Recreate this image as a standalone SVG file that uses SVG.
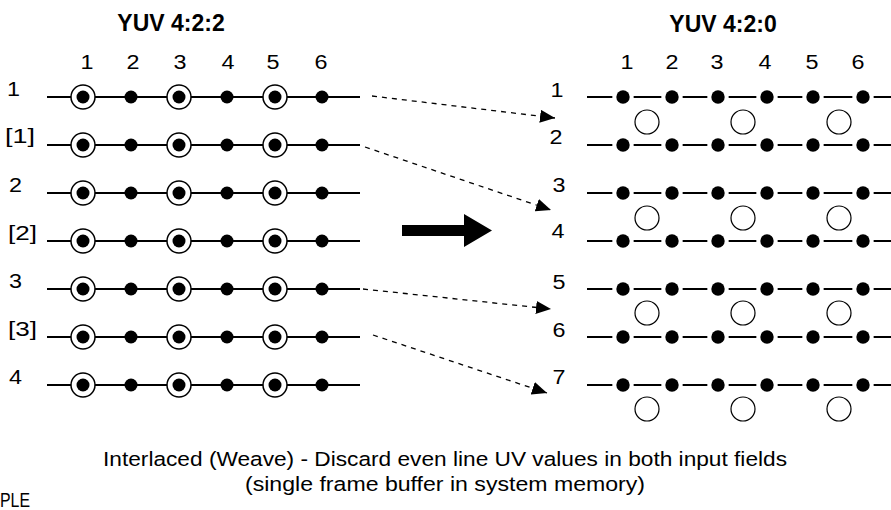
<svg xmlns="http://www.w3.org/2000/svg" width="891" height="510" viewBox="0 0 891 510">
<defs>
<style>
text{font-family:"Liberation Sans",Arial,sans-serif;fill:#000}
.t{font-size:23px;font-weight:bold;text-anchor:middle}
.n{font-size:19.5px;text-anchor:middle}
.l{font-size:19.5px}
.b{font-size:20.5px;text-anchor:middle}
.ln{stroke:#000;stroke-width:2;fill:none}
.big{fill:#fff;stroke:#000;stroke-width:1.5}
.dot{fill:#000}
.rd{fill:#000;stroke:#fff;stroke-width:8;paint-order:stroke}
.oc{fill:#fff;stroke:#000;stroke-width:1.2}
.da{stroke:#000;stroke-width:1.3;stroke-dasharray:5,5;fill:none;marker-end:url(#ah)}
</style>
<marker id="ah" markerUnits="userSpaceOnUse" viewBox="0 0 15 13" refX="15" refY="6.5" markerWidth="15" markerHeight="13" orient="auto">
<path d="M0,0 L15,6.5 L0,13 z" fill="#000"/>
</marker>
<g id="lrow">
<line class="ln" x1="47" y1="0" x2="360" y2="0"/>
<circle class="big" cx="83" cy="0" r="12"/><circle class="dot" cx="83" cy="0" r="6.5"/>
<circle class="dot" cx="131" cy="0" r="6.5"/>
<circle class="big" cx="179" cy="0" r="12"/><circle class="dot" cx="179" cy="0" r="6.5"/>
<circle class="dot" cx="227" cy="0" r="6.5"/>
<circle class="big" cx="275" cy="0" r="12"/><circle class="dot" cx="275" cy="0" r="6.5"/>
<circle class="dot" cx="322" cy="0" r="6.5"/>
</g>
<g id="rrow">
<line class="ln" x1="587" y1="0" x2="891" y2="0"/>
<circle class="rd" cx="623" cy="0" r="6.7"/>
<circle class="rd" cx="672" cy="0" r="6.7"/>
<circle class="rd" cx="718" cy="0" r="6.7"/>
<circle class="rd" cx="767" cy="0" r="6.7"/>
<circle class="rd" cx="813" cy="0" r="6.7"/>
<circle class="rd" cx="863" cy="0" r="6.7"/>
</g>
<g id="ocs">
<circle class="oc" cx="647" cy="0" r="12"/>
<circle class="oc" cx="743" cy="0" r="12"/>
<circle class="oc" cx="839" cy="0" r="12"/>
</g>
</defs>

<g id="left422">
<text class="t" x="171" y="31">YUV 4:2:2</text>
<g id="left-cols">
<text class="n" x="87" y="69" textLength="13" lengthAdjust="spacingAndGlyphs">1</text>
<text class="n" x="133" y="69" textLength="13" lengthAdjust="spacingAndGlyphs">2</text>
<text class="n" x="180" y="69" textLength="13" lengthAdjust="spacingAndGlyphs">3</text>
<text class="n" x="228" y="69" textLength="13" lengthAdjust="spacingAndGlyphs">4</text>
<text class="n" x="273" y="69" textLength="13" lengthAdjust="spacingAndGlyphs">5</text>
<text class="n" x="321" y="69" textLength="13" lengthAdjust="spacingAndGlyphs">6</text>
</g>
<g id="lrow1"><text class="l" x="7" y="96" textLength="13" lengthAdjust="spacingAndGlyphs">1</text><use href="#lrow" y="97"/></g>
<g id="lrow1b"><text class="l" x="5" y="143" textLength="30" lengthAdjust="spacingAndGlyphs">[1]</text><use href="#lrow" y="145"/></g>
<g id="lrow2"><text class="l" x="9" y="192" textLength="13" lengthAdjust="spacingAndGlyphs">2</text><use href="#lrow" y="193"/></g>
<g id="lrow2b"><text class="l" x="8" y="240" textLength="29" lengthAdjust="spacingAndGlyphs">[2]</text><use href="#lrow" y="241"/></g>
<g id="lrow3"><text class="l" x="9" y="288" textLength="13" lengthAdjust="spacingAndGlyphs">3</text><use href="#lrow" y="289"/></g>
<g id="lrow3b"><text class="l" x="8" y="336" textLength="29" lengthAdjust="spacingAndGlyphs">[3]</text><use href="#lrow" y="337"/></g>
<g id="lrow4"><text class="l" x="9" y="384" textLength="13" lengthAdjust="spacingAndGlyphs">4</text><use href="#lrow" y="385"/></g>
</g>

<g id="right420">
<text class="t" x="723" y="32">YUV 4:2:0</text>
<g id="right-cols">
<text class="n" x="627" y="69" textLength="13" lengthAdjust="spacingAndGlyphs">1</text>
<text class="n" x="672" y="69" textLength="13" lengthAdjust="spacingAndGlyphs">2</text>
<text class="n" x="717" y="69" textLength="13" lengthAdjust="spacingAndGlyphs">3</text>
<text class="n" x="765" y="69" textLength="13" lengthAdjust="spacingAndGlyphs">4</text>
<text class="n" x="812" y="69" textLength="13" lengthAdjust="spacingAndGlyphs">5</text>
<text class="n" x="858" y="69" textLength="13" lengthAdjust="spacingAndGlyphs">6</text>
</g>
<g id="rrow1"><text class="n" x="557" y="97" textLength="13" lengthAdjust="spacingAndGlyphs">1</text><use href="#rrow" y="97"/></g>
<g id="rrow2"><text class="n" x="556" y="144" textLength="13" lengthAdjust="spacingAndGlyphs">2</text><use href="#rrow" y="145"/></g>
<g id="rrow3"><text class="n" x="559" y="192" textLength="13" lengthAdjust="spacingAndGlyphs">3</text><use href="#rrow" y="193"/></g>
<g id="rrow4"><text class="n" x="558" y="238" textLength="13" lengthAdjust="spacingAndGlyphs">4</text><use href="#rrow" y="241"/></g>
<g id="rrow5"><text class="n" x="559" y="289" textLength="13" lengthAdjust="spacingAndGlyphs">5</text><use href="#rrow" y="289"/></g>
<g id="rrow6"><text class="n" x="559" y="337" textLength="13" lengthAdjust="spacingAndGlyphs">6</text><use href="#rrow" y="337"/></g>
<g id="rrow7"><text class="n" x="559" y="384" textLength="13" lengthAdjust="spacingAndGlyphs">7</text><use href="#rrow" y="385"/></g>
<g id="chroma">
<use href="#ocs" y="122"/>
<use href="#ocs" y="218"/>
<use href="#ocs" y="313"/>
<use href="#ocs" y="409"/>
</g>
</g>

<g id="connectors">
<path class="da" d="M372,96 L555,118"/>
<path class="da" d="M365,147 L551,210"/>
<path class="da" d="M363,289 L551,309"/>
<path class="da" d="M373,335 L547,393"/>
<polygon id="bigarrow" points="402,225 464,225 464,214 492,230.5 464,247 464,236 402,236" fill="#000"/>
</g>

<g id="caption">
<text class="b" x="445" y="466" textLength="684" lengthAdjust="spacingAndGlyphs">Interlaced (Weave) - Discard even line UV values in both input fields</text>
<text class="b" x="445" y="491" textLength="400" lengthAdjust="spacingAndGlyphs">(single frame buffer in system memory)</text>
<text class="l" x="0" y="507" textLength="30" lengthAdjust="spacingAndGlyphs">PLE</text>
</g>
</svg>
